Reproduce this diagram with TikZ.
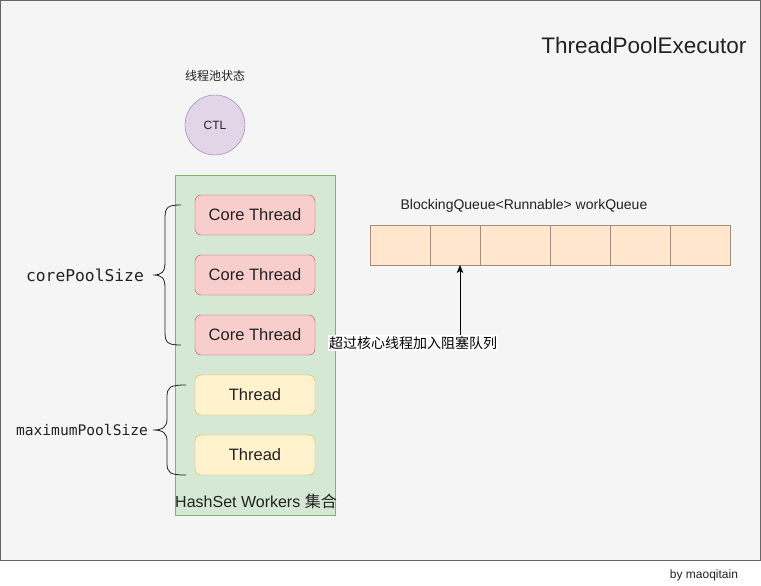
\documentclass[tikz,border=0pt]{standalone}
\usepackage{fontspec}
\setmainfont{Liberation Sans}
\setmonofont{DejaVu Sans Mono}
\newfontfamily\cjk{Noto Sans CJK SC}
\usepackage{xcolor}
\usetikzlibrary{arrows,arrows.meta,calc,positioning,shapes}
\definecolor{bg}{HTML}{F5F5F5}
\definecolor{frame}{HTML}{666666}
\definecolor{txt}{HTML}{222222}
\definecolor{corefill}{HTML}{F8CECC}
\definecolor{coreline}{HTML}{B85450}
\definecolor{thrfill}{HTML}{FFF2CC}
\definecolor{thrline}{HTML}{D6B656}
\definecolor{setfill}{HTML}{D5E8D4}
\definecolor{setline}{HTML}{82B366}
\definecolor{ctlfill}{HTML}{E1D5E7}
\definecolor{ctlline}{HTML}{9673A6}
\definecolor{qfill}{HTML}{FFE6CC}
\definecolor{qline}{HTML}{A08C7A}

\begin{document}
\begin{tikzpicture}[x=1pt,y=-1pt]
\tikzset{box/.style = {shape=rectangle,rounded corners=6pt,minimum width=120pt,minimum height=40pt,inner sep=0pt,text=txt,font=\fontsize{16.5}{19}\selectfont}}
\tikzset{corethread/.style = {box,draw=coreline,fill=corefill}}
\tikzset{thread/.style = {box,draw=thrline,fill=thrfill}}
\tikzset{qcell/.style = {draw=qline,fill=qfill}}
\tikzset{brace/.style = {draw=txt,line width=0.8pt}}
\tikzset{edge/.style = {->,> = {Stealth[length=8pt,width=6.5pt,inset=2pt]},line width=0.9pt}}
\useasboundingbox (0,0) rectangle (761,586);
\draw[draw=frame,fill=bg] (0.5,0.5) rectangle (760.5,560);
% title and state
\node[anchor=east,text=txt,font=\fontsize{22.5}{27}\selectfont] (title) at (750,45) {ThreadPoolExecutor};
\node[text=txt,font=\fontsize{12}{14}\selectfont\cjk] (state) at (215,76) {线程池状态};
\node[shape=circle,draw=ctlline,fill=ctlfill,minimum size=60pt,inner sep=0pt,text=txt,font=\fontsize{12}{14}\selectfont] (ctl) at (215,125) {CTL};
% worker set
\node[shape=rectangle,draw=setline,fill=setfill,minimum width=160pt,minimum height=340pt] (workers) at (255,345) {};
\node[corethread] (c1) at (255,215) {Core Thread};
\node[corethread] (c2) at (255,275) {Core Thread};
\node[corethread] (c3) at (255,335) {Core Thread};
\node[thread] (t1) at (255,395) {Thread};
\node[thread] (t2) at (255,455) {Thread};
\node[text=txt,font=\fontsize{16}{19}\selectfont] (setname) at (256,501) {HashSet Workers {\cjk 集合}};
% braces
\draw[brace] (181,205) .. controls (168,205) and (165,207) .. (165,218) -- (165,262)
  .. controls (165,272) and (162,275) .. (153,275) .. controls (162,275) and (165,278) .. (165,288)
  -- (165,332) .. controls (165,343) and (168,345) .. (181,345);
\draw[brace] (186,385) .. controls (170,385) and (167,387) .. (167,397) -- (167,419)
  .. controls (167,427) and (163,430) .. (153,430) .. controls (163,430) and (167,433) .. (167,441)
  -- (167,463) .. controls (167,473) and (170,475) .. (186,475);
\node[text=txt,font=\fontsize{16.3}{19}\ttfamily] (coresize) at (85,275) {corePoolSize};
\node[text=txt,font=\fontsize{14.6}{17}\ttfamily] (maxsize) at (82,430) {maximumPoolSize};
% queue
\node[text=txt,font=\fontsize{14}{17}\selectfont] (qname) at (524,206) {BlockingQueue<Runnable> workQueue};
\foreach \l/\r in {370/430,430/480,480/550,550/610,610/670,670/730}
  \draw[qcell] (\l,225) rectangle (\r,265);
\coordinate (qtip) at (460,265);
\node[fill=white,inner sep=1pt,text=black,font=\fontsize{14}{17}\selectfont\cjk] (overflow) at (413,343) {超过核心线程加入阻塞队列};
\draw[edge] (overflow.north -| qtip) -- (qtip);
\node[text=txt,font=\fontsize{12}{14}\selectfont] (author) at (704,575) {by maoqitain};
\end{tikzpicture}
\end{document}
